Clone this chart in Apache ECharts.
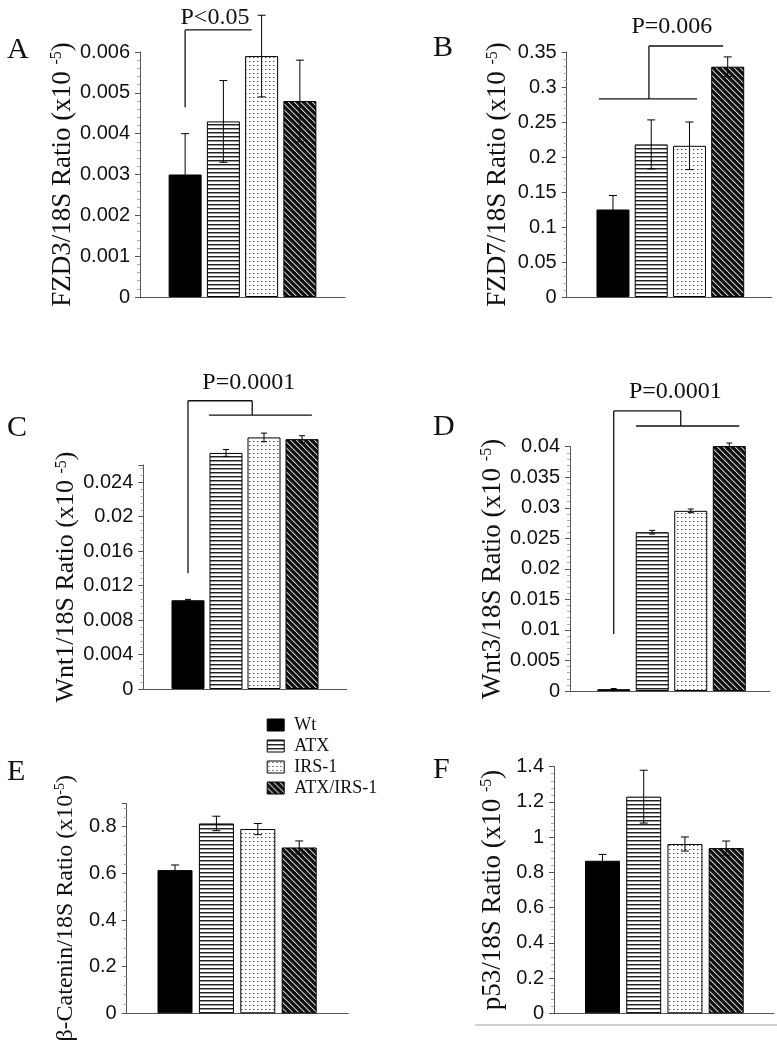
<!DOCTYPE html>
<html><head><meta charset="utf-8">
<script src="https://cdn.jsdelivr.net/npm/echarts@6/dist/echarts.min.js"></script>
<style>html,body{margin:0;padding:0;background:#fff}#c{width:777px;height:1050px}</style>
</head><body><div id="c"></div>
<script>
// ---------- data ----------
const groups = ['Wt', 'ATX', 'IRS-1', 'ATX/IRS-1'];
const fzd3 = [0.0030, 0.0043, 0.0059, 0.0048];
const fzd3Err = [0.0010, 0.0010, 0.0010, 0.0010];
const fzd7 = [0.125, 0.218, 0.216, 0.329];
const fzd7Err = [0.020, 0.035, 0.034, 0.014];
const wnt1 = [0.0103, 0.0274, 0.0292, 0.0290];
const wnt1Err = [0.0001, 0.0004, 0.0005, 0.0004];
const wnt3 = [0.0003, 0.0260, 0.0295, 0.0401];
const wnt3Err = [0.0001, 0.0003, 0.0003, 0.0005];
const catenin = [0.614, 0.814, 0.790, 0.711];
const cateninErr = [0.022, 0.031, 0.024, 0.028];
const p53 = [0.866, 1.230, 0.961, 0.938];
const p53Err = [0.036, 0.150, 0.040, 0.040];
const yMax = [0.006, 0.35, 0.026, 0.04, 0.9, 1.4];
const yInterval = [0.001, 0.05, 0.004, 0.005, 0.2, 0.2];
const yNames = [
  'FZD3/18S Ratio (x10 {s|-5})',
  'FZD7/18S Ratio (x10 {s|-5})',
  'Wnt1/18S Ratio (x10 {s|-5})',
  'Wnt3/18S Ratio (x10 {s|-5})',
  'β-Catenin/18S Ratio (x10{s|-5})',
  'p53/18S Ratio (x10 {s|-5})'
];
const panelLetters = ['A', 'B', 'C', 'D', 'E', 'F'];
const pLabels = ['P<0.05', 'P=0.006', 'P=0.0001', 'P=0.0001'];
const pLabelPos = [[0.78, 0.00683], [1.54, 0.3857], [1.6, 0.03558], [1.6, 0.04904]];
const brackets = [
  [[0, 0.00465, 0, 0.00654], [0, 0.00654, 1.74, 0.00654]],
  [[0.94, 0.3586, 2.88, 0.3586], [0.94, 0.3586, 0.94, 0.2829], [-0.37, 0.2829, 2.2, 0.2829]],
  [[0, 0.01343, 0, 0.03346], [0, 0.03346, 1.69, 0.03346], [1.69, 0.03346, 1.69, 0.0318], [0.55, 0.0318, 3.26, 0.0318]],
  [[0, 0.00933, 0, 0.04585], [0, 0.04585, 1.74, 0.04585], [1.74, 0.04585, 1.74, 0.04339], [0.58, 0.04339, 3.26, 0.04339]]
];
const valueSets = [[fzd3, fzd3Err], [fzd7, fzd7Err], [wnt1, wnt1Err], [wnt3, wnt3Err], [catenin, cateninErr], [p53, p53Err]];

// ---------- layout / style ----------
const layout = [
  {left: 140, top: 52, width: 205, height: 245, xMin: -1.18, xMax: 4.18, barW: 33, cap: 8, nameGap: 63, nameSize: 27, letter: [7, 50.5]},
  {left: 566.7, top: 52, width: 205, height: 245, xMin: -1.21, xMax: 4.15, barW: 33, cap: 8, nameGap: 55, nameSize: 27, letter: [433, 48.5]},
  {left: 143.3, top: 465, width: 203.4, height: 224, xMin: -1.176, xMax: 4.176, barW: 33, cap: 6, nameGap: 64, nameSize: 26, letter: [7, 428.5]},
  {left: 570, top: 446.7, width: 200, height: 244.3, xMin: -1.135, xMax: 4.057, barW: 33, cap: 6, nameGap: 64, nameSize: 27, letter: [433, 427]},
  {left: 126.7, top: 803.4, width: 221.6, height: 209.9, xMin: -1.167, xMax: 4.186, barW: 35, cap: 8, nameGap: 49, nameSize: 24, letter: [7, 772.5]},
  {left: 554, top: 766.7, width: 220, height: 246.6, xMin: -1.176, xMax: 4.16, barW: 35, cap: 8, nameGap: 48, nameSize: 27, letter: [433, 770.5]}
];

function makePattern(kind) {
  const c = document.createElement('canvas');
  const ctx = c.getContext('2d');
  if (kind === 'h') {
    c.width = 4; c.height = 4;
    ctx.fillStyle = '#fff'; ctx.fillRect(0, 0, 4, 4);
    ctx.fillStyle = '#222'; ctx.fillRect(0, 0, 4, 1);
    ctx.fillStyle = '#999'; ctx.fillRect(0, 1, 4, 1);
  } else if (kind === 'd') {
    c.width = 4; c.height = 4;
    ctx.fillStyle = '#fff'; ctx.fillRect(0, 0, 4, 4);
    ctx.fillStyle = '#444'; ctx.fillRect(1, 1, 1, 1);
    ctx.fillStyle = '#bbb'; ctx.fillRect(2, 1, 1, 1);
  } else {
    c.width = 6; c.height = 6;
    ctx.fillStyle = '#111'; ctx.fillRect(0, 0, 6, 6);
    for (let i = 0; i < 6; i++) {
      ctx.fillStyle = '#c8c8c8'; ctx.fillRect(i, i, 1, 1);
      ctx.fillStyle = '#666'; ctx.fillRect((i + 1) % 6, i, 1, 1);
    }
  }
  return {image: c, repeat: 'repeat'};
}
const fills = ['#000', makePattern('h'), makePattern('d'), makePattern('g')];

const grid = [], xAxis = [], yAxis = [], series = [];
layout.forEach((L, p) => {
  grid.push({left: L.left, top: L.top, width: L.width, height: L.height, containLabel: false});
  xAxis.push({
    type: 'value', gridIndex: p, min: L.xMin, max: L.xMax,
    axisLine: {show: true, onZero: false, lineStyle: {color: '#555', width: 1}},
    axisTick: {show: false}, axisLabel: {show: false}, splitLine: {show: false}
  });
  const ratio = yMax[p] / yInterval[p];
  yAxis.push({
    type: 'value', gridIndex: p, min: 0, max: yMax[p], interval: yInterval[p],
    name: yNames[p], nameLocation: 'middle', nameGap: L.nameGap,
    nameTextStyle: {fontFamily: 'Liberation Serif', fontSize: L.nameSize, color: '#111',
      rich: {s: {fontFamily: 'Liberation Serif', fontSize: Math.round(L.nameSize * 0.6), verticalAlign: 'top', color: '#111'}}},
    axisLine: {show: true, onZero: false, lineStyle: {color: '#555', width: 1}},
    axisTick: {show: true, length: 5, lineStyle: {color: '#555'}},
    minorTick: {show: true, splitNumber: 5, length: 3, lineStyle: {color: '#aaa'}},
    splitLine: {show: false}, minorSplitLine: {show: false},
    axisLabel: {fontFamily: 'Liberation Sans', fontSize: 20, color: '#111', margin: 10,
      showMaxLabel: Math.abs(ratio - Math.round(ratio)) < 1e-6}
  });
  const [vals, errs] = valueSets[p];
  groups.forEach((g, i) => {
    series.push({
      type: 'bar', name: g, xAxisIndex: p, yAxisIndex: p, data: [[i, vals[i]]],
      barWidth: L.barW, barGap: '-100%', clip: false, silent: true,
      itemStyle: {color: fills[i], borderColor: '#000', borderWidth: 1}
    });
  });
  series.push({
    type: 'custom', name: 'err' + p, xAxisIndex: p, yAxisIndex: p, clip: false, z: 5, silent: true,
    data: vals.map((v, i) => [i, v, errs[i]]),
    renderItem: (params, api) => {
      const x = api.value(0), v = api.value(1), e = api.value(2);
      const t = api.coord([x, v + e]), b = api.coord([x, v - e]);
      const h = L.cap / 2, st = {stroke: '#000', lineWidth: 1};
      return {type: 'group', children: [
        {type: 'line', shape: {x1: t[0], y1: t[1], x2: b[0], y2: b[1]}, style: st},
        {type: 'line', shape: {x1: t[0] - h, y1: t[1], x2: t[0] + h, y2: t[1]}, style: st},
        {type: 'line', shape: {x1: b[0] - h, y1: b[1], x2: b[0] + h, y2: b[1]}, style: st}
      ]};
    }
  });
  if (brackets[p]) {
    series.push({
      type: 'custom', name: 'br' + p, xAxisIndex: p, yAxisIndex: p, clip: false, silent: true,
      dimensions: ['x1', 'y1', 'x2', 'y2'], encode: {x: [0, 2], y: [1, 3]},
      data: brackets[p],
      renderItem: (params, api) => {
        const a = api.coord([api.value(0), api.value(1)]), b = api.coord([api.value(2), api.value(3)]);
        return {type: 'line', shape: {x1: a[0], y1: a[1], x2: b[0], y2: b[1]}, style: {stroke: '#111', lineWidth: 1.3}};
      }
    });
    series.push({
      type: 'custom', name: 'pv' + p, xAxisIndex: p, yAxisIndex: p, clip: false, silent: true,
      data: [pLabelPos[p]],
      renderItem: (params, api) => {
        const c = api.coord([api.value(0), api.value(1)]);
        return {type: 'text', x: c[0], y: c[1], style: {text: pLabels[p], fontFamily: 'Liberation Serif', fontSize: 24, fill: '#111', align: 'center', verticalAlign: 'middle'}};
      }
    });
  }
});

const graphic = layout.map((L, p) => ({
  type: 'text', left: L.letter[0], top: L.letter[1] - 15,
  style: {text: panelLetters[p], fontFamily: 'Liberation Serif', fontSize: 30, fill: '#111'}
}));
graphic.push({type: 'line', shape: {x1: 475, y1: 1025, x2: 777, y2: 1025}, style: {stroke: '#d0d0d0', lineWidth: 2}});

const chart = echarts.init(document.getElementById('c'), null, {renderer: 'canvas'});
chart.setOption({
  animation: false,
  backgroundColor: '#fff',
  grid, xAxis, yAxis, series, graphic,
  legend: {
    data: groups, orient: 'vertical', left: 261.7, top: 711, itemWidth: 17, itemHeight: 12, itemGap: 3,
    icon: 'rect', selectedMode: false,
    itemStyle: {borderColor: '#000', borderWidth: 1},
    textStyle: {fontFamily: 'Liberation Serif', fontSize: 18, color: '#111', padding: [0, 0, 0, 5]}
  }
});
</script></body></html>
